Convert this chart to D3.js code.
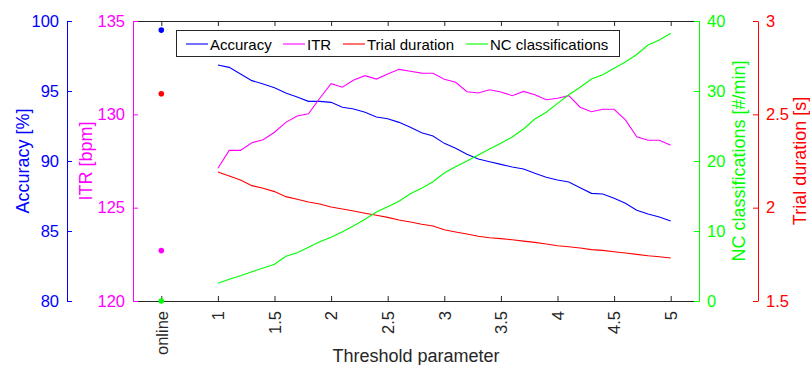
<!DOCTYPE html>
<html><head><meta charset="utf-8">
<script src="https://cdn.jsdelivr.net/npm/d3@7"></script>
<style>body{margin:0;background:#fff}svg{display:block;font-family:Arial,"Liberation Sans",sans-serif}</style>
</head><body><svg id="c" width="810" height="365"></svg>
<script>
const thresholds = [1.0,1.1,1.2,1.3,1.4,1.5,1.6,1.7,1.8,1.9,2.0,2.1,2.2,2.3,2.4,2.5,2.6,2.7,2.8,2.9,3.0,3.1,3.2,3.3,3.4,3.5,3.6,3.7,3.8,3.9,4.0,4.1,4.2,4.3,4.4,4.5,4.6,4.7,4.8,4.9,5.0];
const accuracy = [96.86,96.69,96.21,95.74,95.5,95.24,94.86,94.57,94.26,94.26,94.19,93.84,93.71,93.48,93.14,93.02,92.76,92.41,92.02,91.79,91.26,90.91,90.48,90.14,89.95,89.76,89.57,89.43,89.12,88.84,88.64,88.5,88.09,87.69,87.64,87.34,86.98,86.48,86.21,86.0,85.71];
const itr = [127.11,128.07,128.07,128.48,128.64,129.04,129.57,129.91,130.03,130.86,131.64,131.45,131.84,132.07,131.89,132.16,132.41,132.31,132.21,132.2,131.88,131.72,131.21,131.14,131.32,131.2,131.0,131.23,131.05,130.78,130.86,131.0,130.38,130.14,130.27,130.27,129.7,128.8,128.61,128.61,128.34];
const trialDuration = [2.191,2.170,2.148,2.118,2.104,2.086,2.059,2.045,2.030,2.020,2.004,1.993,1.982,1.970,1.959,1.948,1.934,1.923,1.911,1.902,1.882,1.870,1.859,1.847,1.839,1.834,1.828,1.821,1.814,1.805,1.796,1.791,1.784,1.775,1.771,1.764,1.757,1.750,1.742,1.737,1.730];
const ncClassifications = [2.53,3.1,3.61,4.19,4.71,5.24,6.39,6.9,7.67,8.47,9.1,9.9,10.76,11.67,12.71,13.47,14.24,15.33,16.1,17.04,18.29,19.19,20.0,20.86,21.71,22.53,23.43,24.57,26.0,26.96,28.24,29.47,30.53,31.71,32.33,33.24,34.14,35.21,36.57,37.29,38.24];
// online values (plotted at x position 0.5, labeled "online")
const onlineX = 0.5;
const onlineAccuracy = 99.35;
const onlineITR = 122.7;
const onlineTrialDuration = 2.61;
const onlineNC = 0;
const xTicks = [0.5,1,1.5,2,2.5,3,3.5,4,4.5,5];
const xTickLabels = ["online","1","1.5","2","2.5","3","3.5","4","4.5","5"];
const accTicks = [80,85,90,95,100];
const itrTicks = [120,125,130,135];
const ncTicks = [0,10,20,30,40];
const durTicks = [1.5,2,2.5,3];
const durTickLabels = ["1.5","2","2.5","3"];
const legendLabels = ["Accuracy","ITR","Trial duration","NC classifications"];

const L=133, R=699, T=21, B=301;
const C = {acc:"#0000ff", itr:"#ff00ff", dur:"#ff0000", nc:"#00ff00", ax:"#262626"};
const svg = d3.select("#c");
const x = d3.scaleLinear().domain([0.25,5.25]).range([L,R]);
const yAcc = d3.scaleLinear().domain([80,100]).range([B,T]);
const yItr = d3.scaleLinear().domain([120,135]).range([B,T]);
const yDur = d3.scaleLinear().domain([1.5,3]).range([B,T]);
const yNc = d3.scaleLinear().domain([0,40]).range([B,T]);
const TF = 16.5, LF = 18;

function styleAxis(g,color,fs){
  g.selectAll("path.domain").attr("stroke",color);
  g.selectAll(".tick line").attr("stroke",color);
  g.selectAll(".tick text").attr("fill",color).attr("font-size",fs).attr("font-family","Arial, 'Liberation Sans', sans-serif");
}
// x bottom
const gxb = svg.append("g").attr("transform",`translate(0,${B})`)
  .call(d3.axisBottom(x).tickValues(xTicks).tickFormat((d,i)=>xTickLabels[i]).tickSizeInner(-5).tickSizeOuter(0).tickPadding(10));
styleAxis(gxb,C.ax,TF);
gxb.selectAll(".tick text").attr("transform","rotate(-90)").attr("text-anchor","end").attr("x",-10).attr("y",0).attr("dy","0.35em");
// x top
const gxt = svg.append("g").attr("transform",`translate(0,${T})`)
  .call(d3.axisTop(x).tickValues(xTicks).tickFormat("").tickSizeInner(-5).tickSizeOuter(0));
styleAxis(gxt,C.ax,TF);
// ITR left axis at plot edge
const gi = svg.append("g").attr("transform",`translate(${L},0)`)
  .call(d3.axisLeft(yItr).tickValues(itrTicks).tickSizeInner(-5).tickSizeOuter(0).tickPadding(8));
styleAxis(gi,C.itr,TF);
// Accuracy far left axis
const ga = svg.append("g").attr("transform",`translate(67,0)`)
  .call(d3.axisLeft(yAcc).tickValues(accTicks).tickSizeInner(-5).tickSizeOuter(0).tickPadding(8));
styleAxis(ga,C.acc,TF);
// NC right axis at plot edge
const gn = svg.append("g").attr("transform",`translate(${R},0)`)
  .call(d3.axisRight(yNc).tickValues(ncTicks).tickSizeInner(-5).tickSizeOuter(0).tickPadding(8));
styleAxis(gn,C.nc,TF);
// Trial duration far right
const gd = svg.append("g").attr("transform",`translate(758,0)`)
  .call(d3.axisRight(yDur).tickValues(durTicks).tickFormat((d,i)=>durTickLabels[i]).tickSizeInner(-5).tickSizeOuter(0).tickPadding(8));
styleAxis(gd,C.dur,TF);

// axis titles
function vtitle(cx,text,color){
  svg.append("text").attr("transform",`translate(${cx},161) rotate(-90)`).attr("text-anchor","middle")
    .attr("dominant-baseline","central").attr("fill",color).attr("font-size",LF).text(text);
}
vtitle(23,"Accuracy [%]",C.acc);
vtitle(86,"ITR [bpm]",C.itr);
vtitle(739,"NC classifications [#/min]",C.nc);
vtitle(800,"Trial duration [s]",C.dur);
svg.append("text").attr("x",(L+R)/2).attr("y",362).attr("text-anchor","middle").attr("fill",C.ax).attr("font-size",LF).text("Threshold parameter");

// lines
const series = [
  {vals:accuracy,y:yAcc,c:C.acc},
  {vals:itr,y:yItr,c:C.itr},
  {vals:trialDuration,y:yDur,c:C.dur},
  {vals:ncClassifications,y:yNc,c:C.nc}
];
series.forEach(s=>{
  const line = d3.line().x((d,i)=>x(thresholds[i])).y(d=>s.y(d));
  svg.append("path").datum(s.vals).attr("d",line).attr("fill","none").attr("stroke",s.c).attr("stroke-width",1.1);
});
// online dots
[[onlineAccuracy,yAcc,C.acc],[onlineITR,yItr,C.itr],[onlineTrialDuration,yDur,C.dur],[onlineNC,yNc,C.nc]].forEach(p=>{
  svg.append("circle").attr("cx",x(onlineX)).attr("cy",p[1](p[0])).attr("r",2.8).attr("fill",p[2]);
});

// legend
const lg = svg.append("g");
lg.append("rect").attr("x",176.5).attr("y",30.5).attr("width",443).attr("height",26).attr("fill","#fff").attr("stroke",C.ax).attr("stroke-width",1);
const lx = [186,283,343,466];
const lc = [C.acc,C.itr,C.dur,C.nc];
legendLabels.forEach((t,i)=>{
  lg.append("line").attr("x1",lx[i]).attr("x2",lx[i]+22).attr("y1",44).attr("y2",44).attr("stroke",lc[i]).attr("stroke-width",1.1);
  lg.append("text").attr("x",lx[i]+24).attr("y",44).attr("dominant-baseline","central").attr("font-size",15).attr("fill","#000").text(t);
});
</script></body></html>
